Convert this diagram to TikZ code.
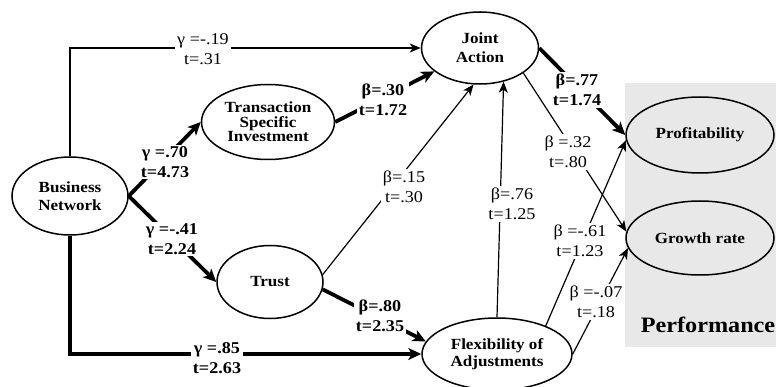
\documentclass[tikz,border=0pt]{standalone}
\usepackage{fontspec}
\setmainfont[FakeStretch=1.1]{Liberation Serif}
\usepackage{xcolor}
\usepackage{tikz}
\usetikzlibrary{arrows.meta,shapes.geometric,positioning}
\definecolor{perfgray}{RGB}{232,232,232}
\def\coefsize{\fontsize{16.5}{19.5}\selectfont}
\def\constructsize{\fontsize{15.5}{17.5}\selectfont\bfseries}
\tikzset{
  construct/.style={ellipse, draw, line width=1.5pt, align=center, inner sep=0pt, font=\constructsize},
  coef/.style={fill=white, align=center, inner sep=2pt, font=\coefsize},
  coefbold/.style={coef, font=\coefsize\bfseries},
  thinpath/.style={line width=1.2pt, -{Stealth[length=11pt,width=9pt,inset=3pt]}},
  thickpath/.style={line width=3.8pt, -{Stealth[length=13pt,width=12pt,inset=3.5pt]}}
}

\begin{document}
\begin{tikzpicture}[x=1pt,y=-1pt]

  \useasboundingbox (0,0) rectangle (776,387);
  \fill[perfgray] (625,83) rectangle (776,347);
  \node[font=\fontsize{22}{26}\selectfont\bfseries] (perf) at (708,325) {Performance};

  \node[construct, minimum width=116pt, minimum height=78pt] (network) at (70,196) {Business\\Network};
  \node[construct, minimum width=133pt, minimum height=75pt,
    font=\fontsize{15.5}{14.5}\selectfont\bfseries] (investment) at (268,122) {Transaction\\Specific\\Investment};
  \node[construct, minimum width=106pt, minimum height=73pt] (trust) at (270,282) {Trust};
  \node[construct, minimum width=117pt, minimum height=72pt,
    font=\fontsize{15.5}{19}\selectfont\bfseries] (joint) at (480,48) {Joint\\Action};
  \node[construct, minimum width=150pt, minimum height=72pt] (flex) at (497,354) {Flexibility of\\Adjustments};
  \node[construct, minimum width=148pt, minimum height=76pt] (profit) at (700,135) {Profitability};
  \node[construct, minimum width=148pt, minimum height=74pt] (growth) at (700,238) {Growth rate};

  \draw[thinpath] (network.north) |- (joint.west);
  \draw[thickpath] (network.east) -- (investment.west);
  \draw[thickpath] (network.east) -- (trust.west);
  \draw[thickpath] (network.south) |- (flex.west);
  \draw[thickpath] (investment.east) -- (joint);
  \draw[thinpath] (trust.8) -- (joint.260);
  \draw[thickpath] (trust.-8) -- (flex.170);
  \draw[thinpath] (flex.north) -- (joint.-55);
  \draw[thickpath] (joint.east) -- (profit.west);
  \draw[thinpath] (joint.-30) -- (growth.175);
  \draw[thinpath] (flex.30) -- (profit.184);
  \draw[thinpath] (flex.east) -- (growth.188);

  \node[coef] (coef0) at (203,49) {γ =-.19\\t=.31};
  \node[coefbold] (coef1) at (165,162) {γ =.70\\t=4.73};
  \node[coefbold] (coef2) at (172,239) {γ =-.41\\t=2.24};
  \node[coefbold] (coef3) at (217,358) {γ =.85\\t=2.63};
  \node[coefbold] (coef4) at (383,100) {β=.30\\t=1.72};
  \node[coef] (coef5) at (404,187) {β=.15\\t=.30};
  \node[coef] (coef6) at (512,204) {β=.76\\t=1.25};
  \node[coefbold] (coef7) at (577,90) {β=.77\\t=1.74};
  \node[coef] (coef8) at (568,152) {β =.32\\t=.80};
  \node[coef] (coef9) at (580,241) {β =-.61\\t=1.23};
  \node[coef] (coef10) at (596,302) {β =-.07\\t=.18};
  \node[coefbold] (coef11) at (380,316) {β=.80\\t=2.35};

\end{tikzpicture}
\end{document}
